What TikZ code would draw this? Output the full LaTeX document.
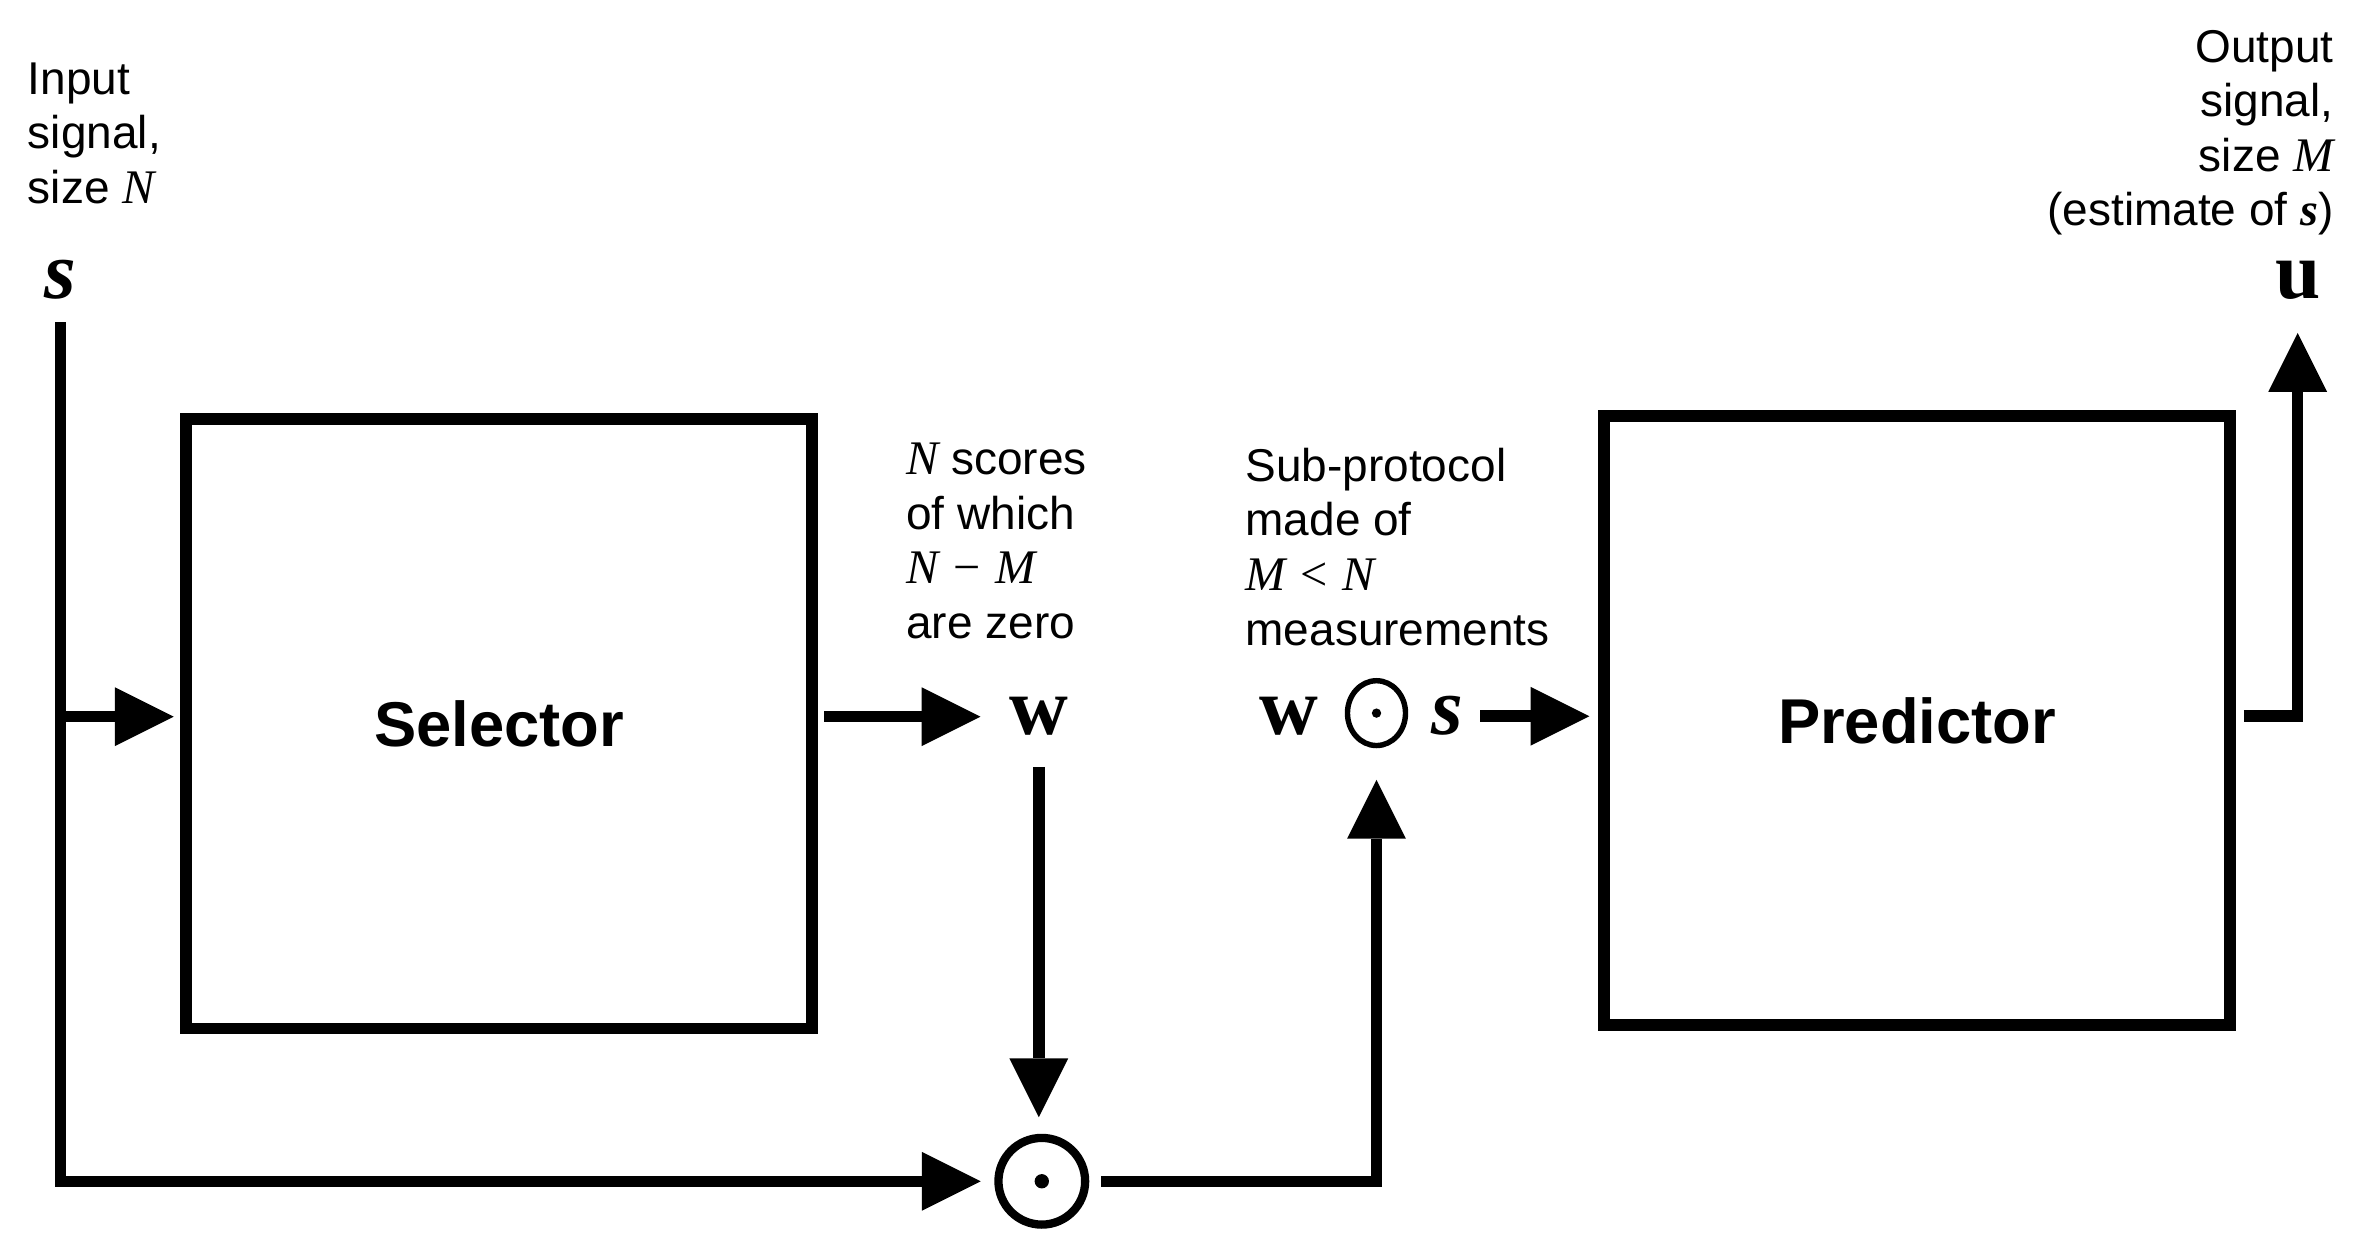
\documentclass[tikz,border=0pt]{standalone}
\usepackage{fontspec}
\setmainfont{Liberation Sans}
\newfontfamily\serifnum{Liberation Serif}
\usetikzlibrary{arrows.meta,shapes.geometric}
\newcommand\mi[1]{{\serifnum\itshape\fontsize{32}{36.2}\selectfont #1}}
\newcommand\mup[1]{{\serifnum\fontsize{32}{36.2}\selectfont #1}}
\newcommand\bv[1]{{\serifnum\bfseries #1}}
\newcommand\bvi[1]{{\serifnum\bfseries\itshape #1}}
\begin{document}
\begin{tikzpicture}[x=1pt,y=-1pt,
  txt/.style={align=left,inner sep=0pt,font=\fontsize{30.5}{36.2}\selectfont},
  txtr/.style={align=right,inner sep=0pt,font=\fontsize{30.5}{36.2}\selectfont},
  block/.style={draw,line width=7.6pt,minimum width=415pt,minimum height=404pt,inner sep=0pt,
    font=\fontsize{42}{48}\selectfont\bfseries},
  vec/.style={inner sep=0pt,font=\fontsize{54}{60}\selectfont},
  odotbig/.style={circle,draw,line width=5.5pt,minimum size=57.5pt,inner sep=0pt,
    path picture={\fill (path picture bounding box.center) circle (4.75pt);}},
  odotsmall/.style={ellipse,draw,line width=3.6pt,minimum width=38.5pt,minimum height=43pt,inner sep=0pt,
    path picture={\fill (path picture bounding box.center) circle (3.1pt);}},
  conn/.style={line width=7.6pt,-{Triangle[length=39pt,width=39pt,line width=0pt]}},
]
\useasboundingbox (0,0) rectangle (1568,831.8);

% texts
\node[txt,anchor=north west] (intxt) at (18.3,41.2) {Input\\signal,\\size \mi{N}};
\node[vec,anchor=base] (s) at (40,198) {\bvi{s}};
\node[txtr,anchor=north east] (outtxt) at (1548,19.8) {Output\\signal,\\size \mi{M}\\(estimate of \bvi{s})};
\node[vec,anchor=base] (u) at (1524,198) {\bv{u}};

\node[txt,anchor=north west] (wtxt) at (601,293.8)
  {\mi{N} scores\\of which\\\mi{N}\hspace{0.32em}\mup{−}\hspace{0.32em}\mi{M}\\are zero};
\node[txt,anchor=north west] (mtxt) at (826,297)
  {Sub-protocol\\made of\\\mi{M}\hspace{0.32em}\mup{<}\hspace{0.32em}\mi{N}\\measurements};

% blocks
\node[block] (sel) at (331,480) {Selector};
\node[block] (pred) at (1271.5,478) {Predictor};

% symbols
\node[vec,anchor=base] (w) at (689,487.5) {\bv{w}};
\node[odotbig] (prod) at (691,783.5) {};
\node[vec,anchor=base] (w2) at (855,487.5) {\bv{w}};
\node[odotsmall] (dot2) at (913,473) {};
\node[vec,anchor=base] (s2) at (960,487.5) {\bvi{s}};

% connectors
\draw[conn,shorten >=9pt] ([yshift=-15pt]s.south) |- (prod);
\draw[conn,shorten >=4.5pt] (s.south |- w) -- (sel.west |- w);
\draw[conn,shorten <=4.5pt,shorten >=19pt] (sel.east |- w) -- (w);
\draw[conn,shorten <=20.5pt,shorten >=11pt] (w.south) -- (w.south |- prod.north);
\draw[conn,shorten <=8pt,shorten >=21pt] (prod) -| (dot2);
\draw[conn,shorten <=11pt,shorten >=6pt] (s2) -- (s2 -| pred.west);
\draw[conn,shorten <=5.5pt,shorten >=22pt] (pred.east |- s2) -| (u);
\end{tikzpicture}
\end{document}
